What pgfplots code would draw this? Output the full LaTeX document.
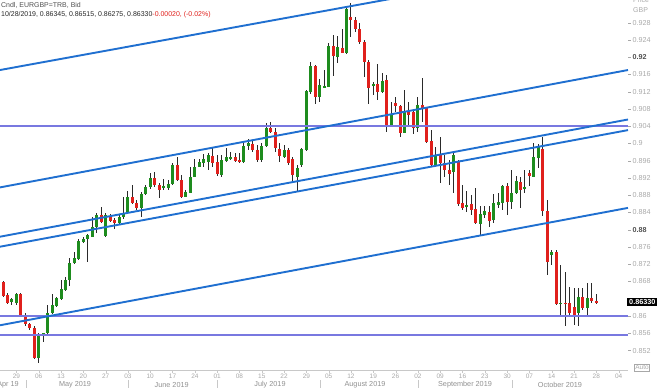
\documentclass[border=0pt]{standalone}
\usepackage{pgfplots}
\pgfplotsset{compat=1.18}
\usepackage{pgfplotstable}
\usepackage{fontspec}
\setmainfont{Liberation Sans}
\definecolor{upc}{HTML}{1E8C1E}
\definecolor{dnc}{HTML}{E0201C}
\definecolor{wick}{HTML}{2A2A2A}
\definecolor{trend}{HTML}{1F6FD0}
\definecolor{hline}{HTML}{7878E0}
\definecolor{tickgray}{HTML}{A8A8A8}
\definecolor{tickdark}{HTML}{505050}
\definecolor{axgray}{HTML}{C8C8C8}
\definecolor{monthgray}{HTML}{909090}
\pgfplotstableread{
i O H L C u
-3 0.86796 0.86824 0.86442 0.86465 0
-2 0.86488 0.86527 0.86279 0.86295 0
-1 0.86319 0.86411 0.86256 0.86388 1
0 0.86295 0.86527 0.86256 0.86504 1
1 0.86504 0.86534 0.85985 0.86024 0
2 0.86024 0.86064 0.85769 0.85816 0
3 0.85816 0.85846 0.85677 0.85716 0
4 0.85730 0.85769 0.84997 0.85021 0
5 0.85035 0.85600 0.84905 0.85561 1
6 0.85538 0.85614 0.85405 0.85600 1
7 0.85600 0.86256 0.85561 0.86064 1
8 0.86064 0.86511 0.86047 0.86256 1
9 0.86233 0.86449 0.86217 0.86411 1
10 0.86395 0.86836 0.86372 0.86620 1
11 0.86604 0.86912 0.86588 0.86836 1
12 0.86836 0.87339 0.86697 0.87223 1
13 0.87223 0.87492 0.87206 0.87339 1
14 0.87315 0.87779 0.87299 0.87740 1
15 0.87723 0.87839 0.87700 0.87779 1
16 0.87779 0.87902 0.87260 0.87879 1
17 0.87839 0.88303 0.87825 0.88071 1
18 0.88071 0.88396 0.87932 0.88342 1
19 0.88342 0.88521 0.88164 0.88187 0
20 0.87856 0.88382 0.87839 0.88342 1
21 0.88319 0.88365 0.88187 0.88210 0
22 0.88226 0.88266 0.88011 0.88150 0
23 0.88164 0.88342 0.88134 0.88303 1
24 0.88289 0.88766 0.88257 0.88382 1
25 0.88419 0.88906 0.88396 0.88766 1
26 0.88766 0.89038 0.88597 0.88613 0
27 0.88613 0.88690 0.88458 0.88498 0
28 0.88498 0.88882 0.88303 0.88822 1
29 0.88822 0.89038 0.88806 0.88984 1
30 0.88984 0.89323 0.88952 0.89193 1
31 0.89193 0.89346 0.88998 0.89038 0
32 0.89038 0.89077 0.88729 0.88922 0
33 0.88961 0.89170 0.88922 0.89015 1
34 0.88961 0.89154 0.88922 0.89054 1
35 0.89054 0.89541 0.89038 0.89501 1
36 0.89501 0.89694 0.89137 0.89154 0
37 0.89154 0.89269 0.88729 0.88766 0
38 0.88766 0.88922 0.88753 0.88882 1
39 0.88859 0.89448 0.88845 0.89230 1
40 0.89230 0.89633 0.89216 0.89462 1
41 0.89462 0.89633 0.89448 0.89578 1
42 0.89555 0.89756 0.89448 0.89633 1
43 0.89578 0.89772 0.89385 0.89733 1
44 0.89710 0.89925 0.89448 0.89541 0
45 0.89578 0.89733 0.89246 0.89293 0
46 0.89269 0.89733 0.89230 0.89617 1
47 0.89601 0.89888 0.89578 0.89680 1
48 0.89657 0.89810 0.89617 0.89694 1
49 0.89694 0.89772 0.89578 0.89601 0
50 0.89617 0.89786 0.89541 0.89578 0
51 0.89578 0.90004 0.89555 0.89942 1
52 0.89942 0.90097 0.89849 0.90004 1
53 0.89981 0.90081 0.89810 0.89849 0
54 0.89849 0.89965 0.89578 0.89617 0
55 0.89617 0.90004 0.89578 0.89942 1
56 0.89942 0.90482 0.89925 0.90352 1
57 0.90352 0.90505 0.90236 0.90273 0
58 0.90273 0.90352 0.89810 0.89888 0
59 0.89865 0.90004 0.89578 0.89710 0
60 0.89694 0.89965 0.89657 0.89849 1
61 0.89849 0.89888 0.89501 0.89541 0
62 0.89633 0.89694 0.89077 0.89269 0
63 0.89230 0.89501 0.88906 0.89425 1
64 0.89501 0.89888 0.89462 0.89865 1
65 0.89849 0.91240 0.89833 0.91217 1
66 0.91200 0.91896 0.91147 0.91796 1
67 0.91796 0.91819 0.90915 0.91084 0
68 0.91084 0.91488 0.90969 0.91356 1
69 0.91302 0.91703 0.91279 0.91333 1
70 0.91316 0.92322 0.91302 0.92260 1
71 0.92260 0.92515 0.91564 0.92028 0
72 0.92012 0.92492 0.91873 0.92243 1
73 0.92206 0.92647 0.92090 0.92104 0
74 0.92104 0.93134 0.92074 0.93110 1
75 0.92939 0.93250 0.92475 0.92862 0
76 0.92862 0.92925 0.92591 0.92647 0
77 0.92647 0.92786 0.92306 0.92359 0
78 0.92359 0.92399 0.91548 0.91896 0
79 0.91896 0.91935 0.90915 0.91279 0
80 0.91333 0.91432 0.91124 0.91372 1
81 0.91379 0.91842 0.91008 0.91200 0
82 0.91200 0.91627 0.91163 0.91448 1
83 0.91472 0.91587 0.90273 0.90405 0
84 0.90405 0.90969 0.90389 0.90660 1
85 0.90945 0.91084 0.90737 0.90869 0
86 0.90869 0.90892 0.90157 0.90250 0
87 0.90250 0.91240 0.90236 0.90737 1
88 0.90737 0.90969 0.90428 0.90660 0
89 0.90737 0.90776 0.90220 0.90352 0
90 0.90352 0.91084 0.90273 0.90892 1
91 0.90892 0.91511 0.90505 0.90816 0
92 0.90816 0.90853 0.90018 0.90041 0
93 0.90065 0.90313 0.89462 0.89501 0
94 0.89501 0.89925 0.89462 0.89733 1
95 0.89733 0.90157 0.89077 0.89541 0
96 0.89541 0.89733 0.89230 0.89385 0
97 0.89385 0.89617 0.89038 0.89293 0
98 0.89346 0.89810 0.88859 0.89733 1
99 0.89578 0.89617 0.88551 0.88597 0
100 0.88613 0.89038 0.88458 0.88498 0
101 0.88521 0.88906 0.88419 0.88574 1
102 0.88597 0.88806 0.88342 0.88458 0
103 0.88474 0.88961 0.88134 0.88164 0
104 0.88134 0.88551 0.87879 0.88365 1
105 0.88342 0.88551 0.88266 0.88442 1
106 0.88419 0.88551 0.88071 0.88210 0
107 0.88226 0.88822 0.88164 0.88613 1
108 0.88574 0.88845 0.88498 0.88651 1
109 0.88613 0.89038 0.88458 0.89015 1
110 0.89015 0.89077 0.88342 0.88651 0
111 0.88651 0.89385 0.88474 0.88859 1
112 0.88859 0.89246 0.88829 0.89130 1
113 0.89114 0.89216 0.88498 0.88922 0
114 0.88961 0.89385 0.88845 0.88998 1
115 0.89323 0.89385 0.89015 0.89246 0
116 0.89230 0.90004 0.89216 0.89680 1
117 0.89657 0.89988 0.89425 0.89925 1
118 0.89865 0.90157 0.88319 0.88442 0
119 0.88442 0.88690 0.86951 0.87260 0
120 0.87415 0.87531 0.87183 0.87492 1
121 0.87492 0.87531 0.86256 0.86279 0
122 0.86279 0.87183 0.86024 0.86309 1
123 0.86309 0.87028 0.85769 0.86295 0
124 0.86295 0.86666 0.86024 0.86078 0
125 0.86217 0.86643 0.85792 0.86024 0
126 0.86064 0.86643 0.85769 0.86435 1
127 0.86435 0.86643 0.86140 0.86180 0
128 0.86180 0.86773 0.86024 0.86425 1
129 0.86411 0.86759 0.86309 0.86349 0
130 0.86345 0.86515 0.86275 0.86330 0
}\candles
\begin{document}
\begin{tikzpicture}[x=1bp,y=1bp]
\path[use as bounding box] (0,-18) rectangle (660,370);
\begin{axis}[
  at={(0,0)}, anchor=south west, scale only axis,
  width=628bp, height=370bp,
  xmin=-3.68, xmax=137.1, ymin=0.84749, ymax=0.93326,
  axis x line*=bottom, axis y line*=right,
  x axis line style={draw=axgray,-},
  y axis line style={draw=none},
  tick align=outside, major tick length=3bp,
  xtick style={draw=axgray}, ytick style={draw=tickgray},
  xtick={0,5,...,135},
  xticklabels={29,06,13,20,27,03,10,17,24,01,08,15,22,29,05,12,19,26,02,09,16,23,30,07,14,21,28,04},
  ytick={0.852,0.856,0.86,0.864,0.868,0.872,0.876,0.88,0.884,0.888,0.892,0.896,0.9,0.904,0.908,0.912,0.916,0.92,0.924,0.928},
  yticklabels={0.852,0.856,0.86,{},0.868,0.872,0.876,{\textcolor{tickdark}{\bfseries 0.88}},0.884,0.888,0.892,0.896,0.9,0.904,0.908,0.912,0.916,{\textcolor{tickdark}{\bfseries 0.92}},0.924,0.928},
  xticklabel style={font=\fontsize{6.5}{7}\selectfont, text=tickgray, inner sep=1bp},
  yticklabel style={font=\fontsize{7.2}{8}\selectfont, text=tickgray, inner sep=1.5bp},
]
% wicks
\addplot[draw=none, mark=none, forget plot,
  error bars/.cd, y dir=both, y explicit, error mark=none,
  error bar style={draw=wick, solid, line width=1bp}]
  table[x=i, y expr={(\thisrow{H}+\thisrow{L})/2}, y error expr={(\thisrow{H}-\thisrow{L})/2}] {\candles};
% up bodies
\addplot[draw=none, mark=none, forget plot,
  restrict expr to domain={\thisrow{u}}{0.5:1.5},
  error bars/.cd, y dir=both, y explicit, error mark=none,
  error bar style={draw=upc, solid, line width=3bp}]
  table[x=i, y expr={(\thisrow{O}+\thisrow{C})/2}, y error expr={max(abs(\thisrow{C}-\thisrow{O})/2,0.00012)}] {\candles};
% down bodies
\addplot[draw=none, mark=none, forget plot,
  restrict expr to domain={\thisrow{u}}{-0.5:0.5},
  error bars/.cd, y dir=both, y explicit, error mark=none,
  error bar style={draw=dnc, solid, line width=3bp}]
  table[x=i, y expr={(\thisrow{O}+\thisrow{C})/2}, y error expr={max(abs(\thisrow{C}-\thisrow{O})/2,0.00012)}] {\candles};
% horizontal levels
\addplot[hline, line width=1.8bp] coordinates {(-3.68,0.904) (137.1,0.904)};
\addplot[hline, line width=1.8bp] coordinates {(-3.68,0.860) (137.1,0.860)};
\addplot[hline, line width=1.8bp] coordinates {(-3.68,0.8556) (137.1,0.8556)};
% trend channel lines
\addplot[trend, line width=1.9bp] coordinates {(-3.68,0.91703) (137.1,0.94353)};
\addplot[trend, line width=1.9bp] coordinates {(-3.68,0.88982) (137.1,0.91703)};
\addplot[trend, line width=1.9bp] coordinates {(-3.68,0.87839) (137.1,0.90556)};
\addplot[trend, line width=1.9bp] coordinates {(-3.68,0.87607) (137.1,0.90310)};
\addplot[trend, line width=1.9bp] coordinates {(-3.68,0.85786) (137.1,0.88507)};
\end{axis}
% header
\node[anchor=west, inner sep=0, font=\fontsize{7}{8}\selectfont, text=tickdark] at (1,364.5) {Cndl, EURGBP=TRB, Bid};
\node[anchor=west, inner sep=0, font=\fontsize{7}{8}\selectfont, text=black!85] at (1,355) {10/28/2019, 0.86345, 0.86515, 0.86275, 0.86330\textcolor{dnc}{-0.00020, (-0.02\%)}};
% price header
\node[anchor=west, inner sep=0, font=\fontsize{7}{8}\selectfont, text=tickgray] at (633,369.5) {Price};
\node[anchor=west, inner sep=0, font=\fontsize{7}{8}\selectfont, text=tickgray] at (633,360) {GBP};
% last price label
\node[anchor=west, fill=black, text=white, font=\bfseries\fontsize{7.3}{8}\selectfont, inner xsep=2bp, inner ysep=1.6bp] at (627,68.3) {0.86330};
% Auto box
\node[draw=tickgray, text=tickgray, font=\fontsize{6.5}{7}\selectfont, inner sep=1bp] at (642,2.5) {Auto};
% month row
\foreach \xx in {26,127.7,216.7,320,418.3,511.7} {\draw[axgray] (\xx,-10) -- (\xx,-18);}
\node[text=monthgray, font=\fontsize{7.3}{8}\selectfont] at (8,-14.5) {Apr 19};
\node[text=monthgray, font=\fontsize{7.3}{8}\selectfont] at (75,-14.5) {May 2019};
\node[text=monthgray, font=\fontsize{7.3}{8}\selectfont] at (171.7,-14.5) {June 2019};
\node[text=monthgray, font=\fontsize{7.3}{8}\selectfont] at (270,-14.5) {July 2019};
\node[text=monthgray, font=\fontsize{7.3}{8}\selectfont] at (365,-14.5) {August 2019};
\node[text=monthgray, font=\fontsize{7.3}{8}\selectfont] at (465,-14.5) {September 2019};
\node[text=monthgray, font=\fontsize{7.3}{8}\selectfont] at (560,-14.5) {October 2019};
\end{tikzpicture}
\end{document}
